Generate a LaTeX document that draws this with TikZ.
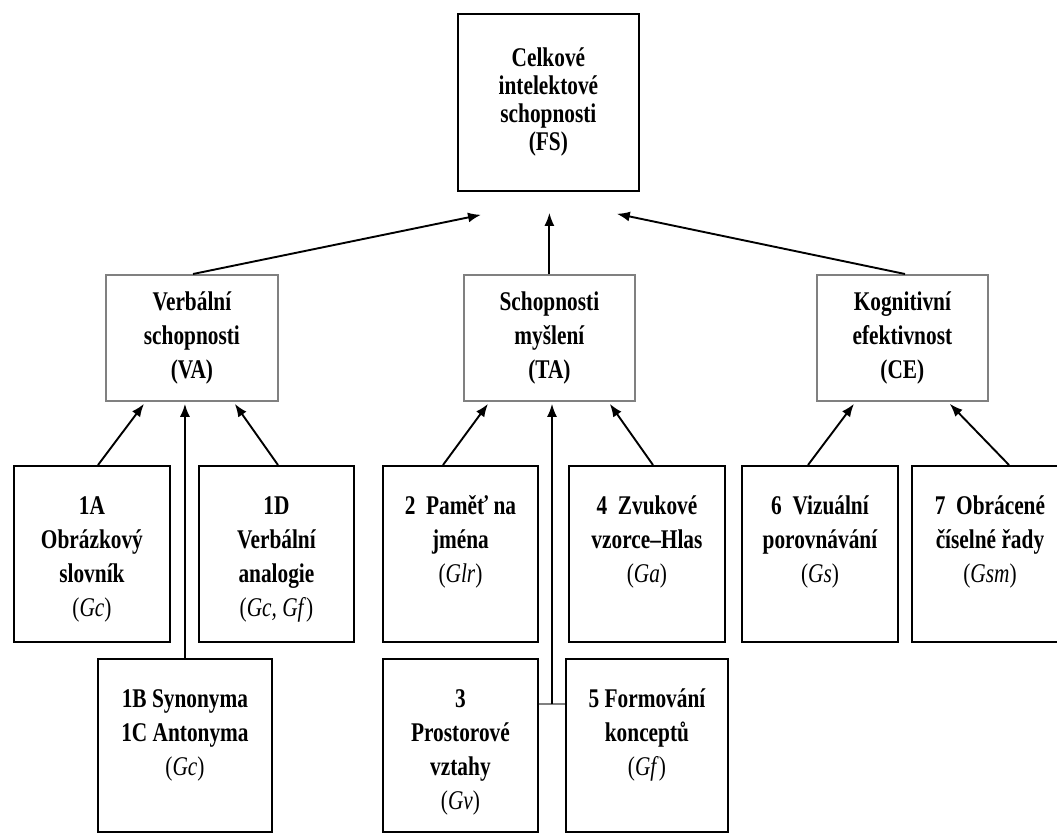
\documentclass[tikz,border=0pt]{standalone}
\usepackage{fontspec}
\setmainfont{Liberation Serif}[FakeStretch=0.79]
\usetikzlibrary{arrows.meta}
\definecolor{boxgray}{RGB}{128,128,128}
\newcommand\fst{\rule{0pt}{19pt}}
\newcommand\gx[1]{{\mdseries(\textit{#1})}}
\begin{document}
\begin{tikzpicture}[x=1pt,y=-1pt,
  lvl/.style={draw=black,line width=1.9pt,inner sep=0pt,anchor=north west},
  txt/.style={inner sep=0pt,anchor=north,align=center,font=\fontsize{27}{34}\selectfont\bfseries},
  mid/.style={draw=boxgray,line width=1.8pt,inner sep=0pt,anchor=north west,minimum width=172pt,minimum height=126pt,align=center,font=\fontsize{27}{34}\selectfont\bfseries},
  top/.style={draw=black,line width=1.8pt,inner sep=0pt,anchor=north west,minimum width=181pt,minimum height=177pt,align=center,font=\fontsize{27}{28}\selectfont\bfseries},
  arr/.style={line width=1.9pt,-{Latex[length=13pt,width=10pt]}},
  tick/.style={draw=boxgray,line width=1.8pt}]
\useasboundingbox (0,0) rectangle (1057,833);
\fill[white] (0,0) rectangle (1057,833);
\clip (0,0) rectangle (1057,833);
% top
\node[top] (fs) at (457,13) {Celkové\\intelektové\\schopnosti\\(FS)};
% level 2
\node[mid] (va) at (105,274) {Verbální\\schopnosti\\(VA)};
\node[mid,minimum width=171pt] (ta) at (463,274) {Schopnosti\\myšlení\\(TA)};
\node[mid,minimum width=171pt] (ce) at (816,274) {Kognitivní\\efektivnost\\(CE)};
% level 3 boxes
\node[lvl,minimum width=156pt,minimum height=176pt] (a1) at (13,465) {};
\node[lvl,minimum width=155pt,minimum height=176pt] (d1) at (198,465) {};
\node[lvl,minimum width=155pt,minimum height=176pt] (n2) at (382,465) {};
\node[lvl,minimum width=156pt,minimum height=176pt] (n4) at (568,465) {};
\node[lvl,minimum width=156pt,minimum height=176pt] (n6) at (741,465) {};
\node[lvl,minimum width=156pt,minimum height=176pt] (n7) at (911,465) {};
% level 4 boxes
\node[lvl,minimum width=174pt,minimum height=173pt] (b1) at (97,658) {};
\node[lvl,minimum width=155pt,minimum height=173pt] (n3) at (382,658) {};
\node[lvl,minimum width=162pt,minimum height=173pt] (n5) at (565,658) {};
% texts
\node[txt] (a1t) at ([yshift=-30pt]a1.north) {\fst 1A\\Obrázkový\\slovník\\\gx{Gc}};
\node[txt] (d1t) at ([yshift=-30pt]d1.north) {\fst 1D\\Verbální\\analogie\\\gx{Gc, Gf}};
\node[txt] (n2t) at ([yshift=-30pt]n2.north) {\fst 2\ \ Paměť na\\jména\\\gx{Glr}};
\node[txt] (n4t) at ([yshift=-30pt]n4.north) {\fst 4\ \ Zvukové\\vzorce–Hlas\\\gx{Ga}};
\node[txt] (n6t) at ([yshift=-30pt]n6.north) {\fst 6\ \ Vizuální\\porovnávání\\\gx{Gs}};
\node[txt] (n7t) at ([yshift=-30pt]n7.north) {\fst 7\ \ Obrácené\\číselné řady\\\gx{Gsm}};
\node[txt] (b1t) at ([yshift=-30pt]b1.north) {\fst 1B Synonyma\\1C Antonyma\\\gx{Gc}};
\node[txt] (n3t) at ([yshift=-30pt]n3.north) {\fst 3\\Prostorové\\vztahy\\\gx{Gv}};
\node[txt] (n5t) at ([yshift=-30pt]n5.north) {\fst 5 Formování\\konceptů\\\gx{Gf}};
% helper coordinates
\coordinate (fsb) at ([yshift=-21pt]fs.south);
\coordinate (vab) at ([yshift=-2pt]va.south);
\coordinate (tab) at ([yshift=-2pt]ta.south);
\coordinate (j) at (552,704);
% arrows to FS
\draw[arr] ([xshift=88pt]va.north west) -- ([xshift=24pt,yshift=-23pt]fs.south west);
\draw[arr] (ta.north) -- (ta.north |- fsb);
\draw[arr] ([xshift=89pt]ce.north west) -- ([xshift=-23pt,yshift=-22pt]fs.south east);
% arrows to VA
\draw[arr] ([xshift=85pt]a1.north west) -- ([xshift=39pt,yshift=-2pt]va.south west);
\draw[arr] (b1.north) -- (b1.north |- vab);
\draw[arr] ([xshift=80pt]d1.north west) -- ([xshift=-44pt,yshift=-2pt]va.south east);
% arrows to TA
\draw[arr] ([xshift=61pt]n2.north west) -- ([xshift=25pt,yshift=-2pt]ta.south west);
\draw[tick] (j -| n3.east) -- (j -| n5.west);
\draw[arr] (j) -- (j |- tab);
\draw[arr] ([xshift=85pt]n4.north west) -- ([xshift=-26pt,yshift=-2pt]ta.south east);
% arrows to CE
\draw[arr] ([xshift=67pt]n6.north west) -- ([xshift=38pt,yshift=-2pt]ce.south west);
\draw[arr] ([xshift=98pt]n7.north west) -- ([xshift=-39pt,yshift=-2pt]ce.south east);
\end{tikzpicture}
\end{document}
